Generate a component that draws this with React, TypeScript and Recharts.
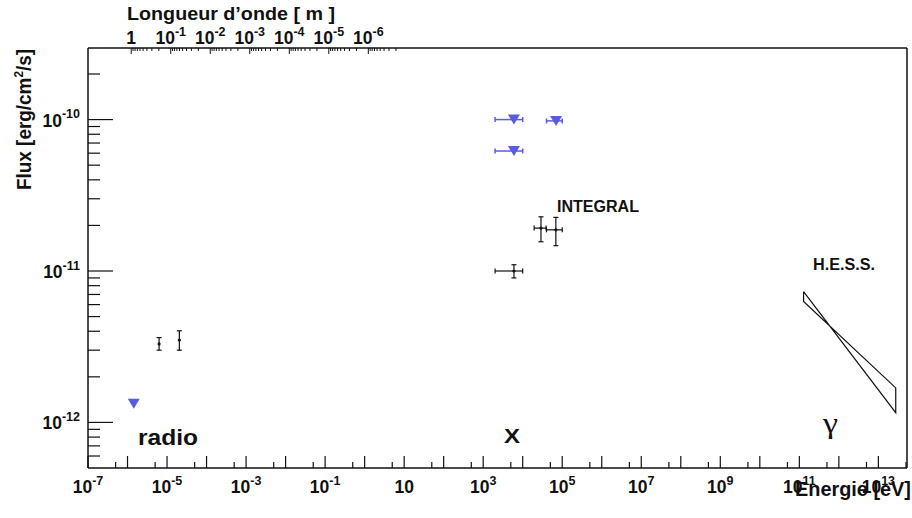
import React from 'react'
import { ComposedChart, Scatter, XAxis, YAxis, ErrorBar } from 'recharts'

// ── Layout / style ───────────────────────────────────────────────────────────

const W = 912
const H = 518
const FONT = "'Liberation Sans', Arial, Helvetica, sans-serif"
const INK = '#111'
const BLUE = '#5b5bdc'
const HC = 1.23984e-6 // eV·m, lambda = HC / E

// ── Axis ranges & ticks ──────────────────────────────────────────────────────

const energyDomain = [1e-7, 5.3e13]
const fluxDomain = [5e-13, 2.97e-10]

const energyExps = [-7, -6, -5, -4, -3, -2, -1, 0, 1, 2, 3, 4, 5, 6, 7, 8, 9, 10, 11, 12, 13]
const energyLabelExps = [-7, -5, -3, -1, 1, 3, 5, 7, 9, 11, 13]
const fluxExps = [-13, -12, -11, -10]
const fluxLabelExps = [-12, -11, -10]
const minorMantissas = [2, 3, 4, 5, 6, 7, 8, 9]
const waveLabelExps = [0, -1, -2, -3, -4, -5, -6]
const waveMinorExps = [-1, -2, -3, -4, -5, -6, -7]

const energyMajorTicks = energyExps.map(n => 10 ** n)
const energyMinorTicks = energyExps.map(n => 5 * 10 ** n).filter(v => v < energyDomain[1])
const energyTicks = [...energyMajorTicks, ...energyMinorTicks]
const energyMajorSet = new Set(energyMajorTicks)

const fluxMajorTicks = fluxLabelExps.map(n => 10 ** n)
const fluxMinorTicks = fluxExps
  .flatMap(n => minorMantissas.map(k => k * 10 ** n))
  .filter(v => v > fluxDomain[0] * 1.001 && v < fluxDomain[1] * 0.999)
const fluxTicks = [...fluxMajorTicks, ...fluxMinorTicks]
const fluxMajorSet = new Set(fluxMajorTicks)

const waveMajorTicks = waveLabelExps.map(n => HC / 10 ** n)
const waveMinorTicks = waveMinorExps.flatMap(n => minorMantissas.map(k => HC / (k * 10 ** n)))
const waveTicks = [...waveMajorTicks, ...waveMinorTicks]
const waveMajorSet = new Set(waveMajorTicks)

// ── Data ─────────────────────────────────────────────────────────────────────

// radio upper limit
const radioLimitEnergy = [1.44e-6]
const radioLimitFlux = [1.33e-12]

// radio detections
const radioEnergy = [6.3e-6, 2.05e-5]
const radioFlux = [3.3e-12, 3.5e-12]
const radioFluxLow = [3.0e-12, 3.0e-12]
const radioFluxHigh = [3.63e-12, 4.03e-12]

// X-ray upper limits
const xLimitEnergy = [6e3, 7e4, 6e3]
const xLimitEnergyLow = [2e3, 4e4, 2e3]
const xLimitEnergyHigh = [1e4, 1e5, 1e4]
const xLimitFlux = [1.0e-10, 9.8e-11, 6.2e-11]

// X-ray / INTEGRAL detections
const xEnergy = [6e3, 2.9e4, 6.9e4]
const xEnergyLow = [2e3, 1.95e4, 4e4]
const xEnergyHigh = [1e4, 3.9e4, 1e5]
const xFlux = [1.0e-11, 1.92e-11, 1.87e-11]
const xFluxLow = [9.0e-12, 1.56e-11, 1.47e-11]
const xFluxHigh = [1.1e-11, 2.28e-11, 2.26e-11]

// H.E.S.S. butterfly outline (closed)
const hessEnergy = [1.28e11, 2.75e13, 2.75e13, 1.28e11, 1.28e11]
const hessFlux = [7.3e-12, 1.16e-12, 1.69e-12, 6.3e-12, 7.3e-12]

const radioLimitData = radioLimitEnergy.map((e, i) => ({ e, f: radioLimitFlux[i] }))
const radioData = radioEnergy.map((e, i) => ({
  e, f: radioFlux[i],
  ey: [radioFlux[i] - radioFluxLow[i], radioFluxHigh[i] - radioFlux[i]],
}))
const xLimitData = xLimitEnergy.map((e, i) => ({
  e, f: xLimitFlux[i],
  ex: [e - xLimitEnergyLow[i], xLimitEnergyHigh[i] - e],
}))
const xData = xEnergy.map((e, i) => ({
  e, f: xFlux[i],
  ex: [e - xEnergyLow[i], xEnergyHigh[i] - e],
  ey: [xFlux[i] - xFluxLow[i], xFluxHigh[i] - xFlux[i]],
}))
const hessData = hessEnergy.map((e, i) => ({ e, f: hessFlux[i] }))

// ── Tick renderers ───────────────────────────────────────────────────────────

function PowText({ x, y, n, anchor }: { x: number; y: number; n: number; anchor: string }) {
  const base = n === 0 ? '1' : '10'
  const sup = n === 0 || n === 1 ? null : String(n)
  return (
    <text x={x} y={y} textAnchor={anchor} fontFamily={FONT} fontWeight={700} fontSize={17.5} fill={INK}>
      <tspan>{base}</tspan>
      {sup && <tspan dy={-8.5} fontSize={12.5}>{sup}</tspan>}
    </text>
  )
}

function BottomTick({ x, y, payload }: any) {
  const v = payload.value
  const major = energyMajorSet.has(v)
  const n = Math.round(Math.log10(v))
  return (
    <g>
      <line x1={x} x2={x} y1={y} y2={y - (major ? 12 : 6)} stroke={INK} strokeWidth={1.2} />
      {major && energyLabelExps.includes(n) && <PowText x={x} y={y + 25} n={n} anchor="middle" />}
    </g>
  )
}

function TopTick({ x, y, payload }: any) {
  const v = payload.value
  const major = waveMajorSet.has(v)
  const n = Math.round(Math.log10(HC / v))
  return (
    <g>
      <line x1={x} x2={x} y1={y} y2={y + (major ? 6 : 3)} stroke={INK} strokeWidth={1} />
      {major && <PowText x={x} y={y - 4} n={n} anchor="middle" />}
    </g>
  )
}

function LeftTick({ x, y, payload }: any) {
  const v = payload.value
  const major = fluxMajorSet.has(v)
  const n = Math.round(Math.log10(v))
  return (
    <g>
      <line x1={x} x2={x + (major ? 25 : 12)} y1={y} y2={y} stroke={INK} strokeWidth={1.2} />
      {major && <PowText x={x - 8} y={y + 7} n={n} anchor="end" />}
    </g>
  )
}

// ── Markers ──────────────────────────────────────────────────────────────────

const Triangle = ({ cx, cy }: any) => (
  <path d={`M${cx - 6},${cy - 5}L${cx + 6},${cy - 5}L${cx},${cy + 5}Z`} fill={BLUE} />
)
const Dot = ({ cx, cy }: any) => <circle cx={cx} cy={cy} r={1.6} fill={INK} />
const NoMark = () => <g />

const axisLine = { stroke: INK, strokeWidth: 1.5 }

export default function App() {
  return (
    <div style={{ position: 'fixed', left: 0, top: 0, width: W, height: H, background: '#fff' }}>
      <ComposedChart width={W} height={H} margin={{ top: 0, right: 0, bottom: 0, left: 0 }}>
        <XAxis
          dataKey="e" type="number" scale="log" domain={energyDomain} allowDataOverflow
          ticks={energyTicks} interval={0} height={50}
          tick={BottomTick} tickLine={false} tickSize={0} tickMargin={0} axisLine={axisLine}
        />
        <XAxis
          xAxisId="top" dataKey="e" orientation="top" type="number" scale="log" domain={energyDomain} allowDataOverflow
          ticks={waveTicks} interval={0} height={48}
          tick={TopTick} tickLine={false} tickSize={0} tickMargin={0} axisLine={axisLine}
        />
        <YAxis
          dataKey="f" type="number" scale="log" domain={fluxDomain} allowDataOverflow
          ticks={fluxTicks} interval={0} width={88}
          tick={LeftTick} tickLine={false} tickSize={0} tickMargin={0} axisLine={axisLine}
        />
        <YAxis
          yAxisId="right" orientation="right" type="number" scale="log" domain={fluxDomain} allowDataOverflow
          width={5} tick={false} tickLine={false} axisLine={axisLine}
        />

        {/* the H.E.S.S. outline is drawn against the wavelength axis too, so that axis gets its ticks */}
        <Scatter xAxisId="top" data={hessData} shape={NoMark} isAnimationActive={false} />

        <Scatter data={hessData} shape={NoMark} line={{ stroke: INK, strokeWidth: 1.2 }} isAnimationActive={false} />

        <Scatter data={radioLimitData} shape={Triangle} isAnimationActive={false} />

        <Scatter data={radioData} shape={Dot} isAnimationActive={false}>
          <ErrorBar dataKey="ey" direction="y" width={2.5} stroke={INK} strokeWidth={1.2} isAnimationActive={false} />
        </Scatter>

        <Scatter data={xLimitData} shape={Triangle} isAnimationActive={false}>
          <ErrorBar dataKey="ex" direction="x" width={2.5} stroke={BLUE} strokeWidth={1.5} isAnimationActive={false} />
        </Scatter>

        <Scatter data={xData} shape={Dot} isAnimationActive={false}>
          <ErrorBar dataKey="ex" direction="x" width={2.5} stroke={INK} strokeWidth={1.2} isAnimationActive={false} />
          <ErrorBar dataKey="ey" direction="y" width={2.5} stroke={INK} strokeWidth={1.2} isAnimationActive={false} />
        </Scatter>
      </ComposedChart>

      {/* titles and annotations */}
      <svg width={W} height={H} style={{ position: 'absolute', left: 0, top: 0, pointerEvents: 'none' }}>
        <g fontFamily={FONT} fontWeight={700} fill={INK}>
          <text x={127} y={20} fontSize={18} textLength={208} lengthAdjust="spacingAndGlyphs">
            Longueur d’onde [ m ]
          </text>
          <text transform="translate(31,190) rotate(-90)" fontSize={21} textLength={141} lengthAdjust="spacingAndGlyphs">
            Flux [erg/cm<tspan dy={-8} fontSize={13}>2</tspan><tspan dy={8}>/s]</tspan>
          </text>
          <text x={795} y={496} fontSize={21} textLength={116} lengthAdjust="spacingAndGlyphs">Energie [eV]</text>
          <text x={138} y={445} fontSize={22} textLength={60} lengthAdjust="spacingAndGlyphs">radio</text>
          <text x={504} y={443} fontSize={21} textLength={16} lengthAdjust="spacingAndGlyphs">X</text>
          <text x={557} y={212} fontSize={16} textLength={82} lengthAdjust="spacingAndGlyphs">INTEGRAL</text>
          <text x={813} y={270} fontSize={16} textLength={62} lengthAdjust="spacingAndGlyphs">H.E.S.S.</text>
        </g>
        <text x={823} y={433} fontFamily="'Liberation Serif', 'DejaVu Serif', serif" fontSize={30} fill={INK}
          textLength={15} lengthAdjust="spacingAndGlyphs">
          γ
        </text>
      </svg>
    </div>
  )
}
